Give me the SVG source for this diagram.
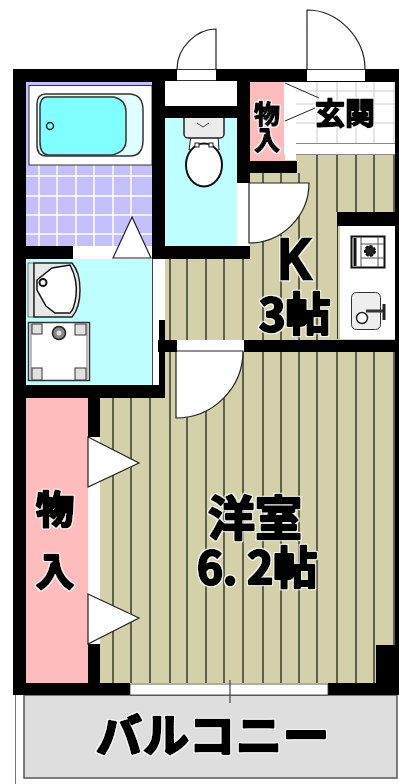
<svg xmlns="http://www.w3.org/2000/svg" width="399" height="784" viewBox="0 0 399 784">
<defs><style>
.wall{fill:#000}
.wood{fill:#d3d0aa}
.wl{stroke:#3a3a30;stroke-width:1.5;fill:none}
.lt{stroke:#222;stroke-width:1.2;fill:#fff}
.tile{stroke:#fff;stroke-width:1.5;fill:none}
.gen{stroke:#ccc;stroke-width:1;fill:none}
.big{font-family:"Noto Sans CJK JP","Noto Sans",sans-serif;font-weight:700;fill:#000;stroke:#000;stroke-width:2.6;stroke-linejoin:round}
.vert{writing-mode:vertical-rl}
.lat{font-family:"Liberation Sans",sans-serif;font-weight:700;fill:#000;stroke:#000;stroke-width:3;text-anchor:middle}
</style>
<filter id="halo" x="-10%" y="-10%" width="120%" height="120%">
<feMorphology in="SourceAlpha" operator="dilate" radius="1" result="d"/>
<feFlood flood-color="#fff" flood-opacity=".8"/>
<feComposite in2="d" operator="in" result="w"/>
<feMerge><feMergeNode in="w"/><feMergeNode in="SourceGraphic"/></feMerge>
</filter>
</defs>
<rect width="399" height="784" fill="#fff"/>

<g id="balcony">
<rect x="24" y="695" width="373" height="83" fill="#dedede" stroke="#555" stroke-width="1.5"/>
<path d="M15.500 695V784" stroke="#777" stroke-width="1" fill="none"/>
</g>

<g id="floors">
<rect class="wood" x="100" y="398" width="295" height="285"/>
<rect class="wood" x="165" y="352" width="230" height="46"/>
<rect class="wood" x="165" y="259" width="172" height="81"/>
<rect class="wood" x="250" y="154" width="145" height="186"/>
<g class="wl">
<path d="M113 398V683M131 398V683M150 398V683M170 352V683M187 352V683M206 352V683M224 352V683M243 352V683M263 352V683M281 352V683M299 352V683M317 352V683M337 352V683M356 352V683M374 352V683M394 352V645"/>
<path d="M170 259V340M187 259V340M206 259V340M224 259V340M243 259V340M263 173V340M281 173V340M299 173V340M317 154V340M337 154V212M356 154V212M374 154V212M394 154V212"/>
</g>
</g>

<g id="walls" class="wall">
<rect x="13" y="69" width="386" height="13"/>
<rect x="13" y="69" width="13" height="626"/>
<rect x="395" y="69" width="4" height="626"/>
<rect x="328" y="683" width="71" height="12"/>
</g>

<g id="bath">
<rect x="26" y="82" width="126" height="164" fill="#c4c0ff"/>
<path class="tile" d="M39 165V246M57 165V246M76 165V246M94 165V246M113 165V246M131 165V246M26 176H152M26 196H152M26 215H152M26 234H152"/>
<rect x="29" y="85.500" width="123" height="79.500" fill="#fff" stroke="#333" stroke-width="1"/>
<path d="M46 94H130Q143 95 143 110V140Q143 156 130 156H46Q37 156 37 145V104Q37 94 46 94Z" fill="#e0ffff" stroke="#333" stroke-width="1.500"/>
<path d="M46 97H114Q126 100 126 112V140Q126 152 112 155H48Q40 154 40 142V107Q40 98 46 97Z" fill="#80ffff" stroke="#333" stroke-width="1.500"/>
<circle cx="50" cy="126" r="3.500" fill="#80ffff" stroke="#222" stroke-width="1.500"/>
</g>

<g id="bath-door">
<rect x="73" y="247" width="79" height="11" fill="#fff"/>
<path d="M132 217L113 258H151Z" class="lt"/>
</g>

<g id="toilet">
<rect x="165" y="81" width="72" height="25" fill="#fff"/>
<rect x="165" y="118" width="72" height="128" fill="#bfffff"/>
<path d="M191 136H218L219 150H189Z" fill="#fff" stroke="#222"/>
<rect x="184" y="112" width="40" height="26" rx="4" fill="#ececec" stroke="#222" stroke-width="1.500"/>
<rect x="165" y="106" width="72" height="12" class="wall"/>
<path d="M197 123L203 127L209 123" fill="none" stroke="#444"/>
<ellipse cx="204" cy="165" rx="18" ry="21.500" fill="#fff" stroke="#111" stroke-width="2"/>
<rect x="195" y="143" width="4" height="4" fill="#fff" stroke="#222"/>
<rect x="209" y="143" width="4" height="4" fill="#fff" stroke="#222"/>
</g>

<g id="toilet-door">
<rect x="177" y="69" width="39" height="11" fill="#fff"/>
<path d="M177 69.500H216M177 80.500H216" stroke="#333"/>
<path d="M216 69V29C196 29 177 48 177 69" fill="#fff" stroke="#222" stroke-width="1.200"/>
</g>

<g id="entrance-door">
<rect x="307" y="69" width="58" height="12" fill="#fff"/>
<path d="M307 69.500H365" stroke="#333"/>
<path d="M307 69V10C338 10 365 38 365 69" fill="#fff" stroke="#222" stroke-width="1.200"/>
</g>

<g id="closet-small">
<rect x="250" y="82" width="34" height="79" fill="#ffbcbc"/>
<rect x="285" y="82" width="11" height="78" fill="#fff"/>
</g>

<g id="genkan">
<rect x="296" y="82" width="99" height="72" fill="#fff"/>
<path class="gen" d="M317 82V143M337 82V143M356 82V143M374 82V143M394 82V143M296 91H395M296 104H395M296 123H395"/>
<path d="M296 143.500H395" stroke="#888"/>
<path d="M296 154.500H395" stroke="#888"/>
<path d="M285 83L319 98M285 121L315 108" stroke="#222" fill="none"/>
</g>

<g id="k-door">
<rect x="238" y="183" width="11" height="60" fill="#fff"/>
<path d="M249 243V183H309C309 216 282 243 249 243Z" fill="#fff" stroke="#222" stroke-width="1.200"/>
</g>

<g id="kitchen">
<rect x="340" y="226" width="55" height="113" fill="#fff"/>
<rect x="337" y="226" width="3" height="113" fill="#d3d0aa"/>
<path d="M337.500 226V339" stroke="#333"/>
<rect x="351.500" y="236.500" width="33" height="31" fill="#fff" stroke="#111" stroke-width="2"/>
<path d="M355 238V266" stroke="#111" stroke-width="3"/>
<path d="M361 237V267M361 244H384M361 258H384M378 237V267" stroke="#555" fill="none"/>
<circle cx="370" cy="251" r="5" fill="#222" stroke="#111" stroke-width="2" stroke-dasharray="3 1.500"/>
<rect x="351.500" y="292.500" width="29" height="37" rx="5" fill="#eee" stroke="#333"/>
<circle cx="362" cy="318" r="5.500" fill="#fff" stroke="#222" stroke-width="1.500"/>
<path d="M366 311H384" stroke="#333" stroke-width="3"/>
<path d="M384 304V320" stroke="#222" stroke-width="3"/>
</g>

<g id="wash">
<rect x="26" y="259" width="126" height="126" fill="#bfffff"/>
<rect x="153" y="259" width="6" height="60" fill="#fff"/>
<path d="M152.500 259V385" stroke="#444"/>
<path d="M155.500 320V385" stroke="#fff" stroke-dasharray="2 1"/>
<rect x="28" y="263" width="6" height="54" fill="#e4e4e4" stroke="#555" stroke-width=".8"/>
<path d="M34 263H72Q80 272 80 290Q80 308 72 317H34Z" fill="#e8e8e8" stroke="#222" stroke-width="1.500"/>
<path d="M37 280L52 268L70 265Q78 280 76 296Q74 310 70 313L55 313L46 306L37 290Z" fill="#fff" stroke="#111" stroke-width="1.500"/>
<circle cx="43" cy="282.500" r="3.500" fill="#fff" stroke="#111" stroke-width="2"/>
</g>

<g id="pan">
<rect x="28.500" y="322.500" width="61" height="58" fill="#fff" stroke="#333" stroke-width="1.500"/>
<rect x="30" y="323" width="2" height="57" fill="#bbb"/>
<rect x="86" y="323" width="2" height="57" fill="#bbb"/>
<g fill="#e0e0e0" stroke="#333">
<rect x="32" y="324" width="10" height="10"/>
<rect x="75" y="324" width="11" height="11"/>
<rect x="32" y="368" width="10" height="12"/>
<rect x="75" y="368" width="11" height="12"/>
</g>
<circle cx="59" cy="333" r="6.500" fill="#888" stroke="#222" stroke-width="1.500"/>
<circle cx="59" cy="333" r="2.500" fill="#ddd"/>
</g>

<g id="closet-large">
<rect x="26" y="398" width="62" height="285" fill="#ffbcbc"/>
<rect x="88" y="437" width="12" height="207" fill="#fff"/>
<path d="M88 437L139 463L88 487Z" class="lt"/>
<path d="M88 594L139 618L88 644Z" class="lt"/>
</g>

<g id="main-door">
<rect x="177" y="340" width="67" height="11" fill="#fff"/>
<path d="M177 351.500H243" stroke="#222"/>
<path d="M176 418V351H243C243 388 213 418 176 418Z" fill="#fff" stroke="#222" stroke-width="1.200"/>
</g>

<g id="walls-inner" class="wall">
<rect x="152" y="82" width="13" height="164"/>
<rect x="237" y="82" width="13" height="101"/>
<rect x="165" y="106" width="72" height="12"/>
<rect x="240" y="161" width="57" height="12"/>
<rect x="26" y="246" width="47" height="13"/>
<rect x="152" y="246" width="98" height="13"/>
<rect x="337" y="212" width="62" height="14"/>
<rect x="244" y="340" width="155" height="12"/>
<rect x="158" y="340" width="19" height="12"/>
<rect x="159" y="320" width="6" height="77"/>
<rect x="26" y="385" width="139" height="13"/>
<rect x="88" y="398" width="12" height="39"/>
<rect x="88" y="644" width="12" height="39"/>
<rect x="376" y="645" width="23" height="50"/>
<rect x="13" y="683" width="117" height="12"/>
</g>

<g id="window">
<rect x="130" y="684" width="198" height="11" fill="#fff" stroke="#333" stroke-width=".8"/>
<path d="M230 680V703" stroke="#444" stroke-width="1.200"/>
</g>

<g id="labels" filter="url(#halo)">
<text class="big vert" x="267" y="101" font-size="26" style="stroke-width:1.500">物入</text>
<text class="big" x="315" y="124" font-size="30" style="stroke-width:1.800">玄関</text>
<text class="big vert" x="55" y="490" font-size="38" letter-spacing="24">物入</text>
<text class="lat" transform="translate(295 279) scale(.8 1)" font-size="58">K</text>
<text class="big" x="259" y="331" font-size="45">3帖</text>
<text class="big" x="208" y="535" font-size="47">洋室</text>
<text class="big" x="197" y="584" font-size="44">6. 2帖</text>
<text class="big" x="96" y="752" font-size="46" letter-spacing="1">バルコニー</text>
</g>
</svg>
